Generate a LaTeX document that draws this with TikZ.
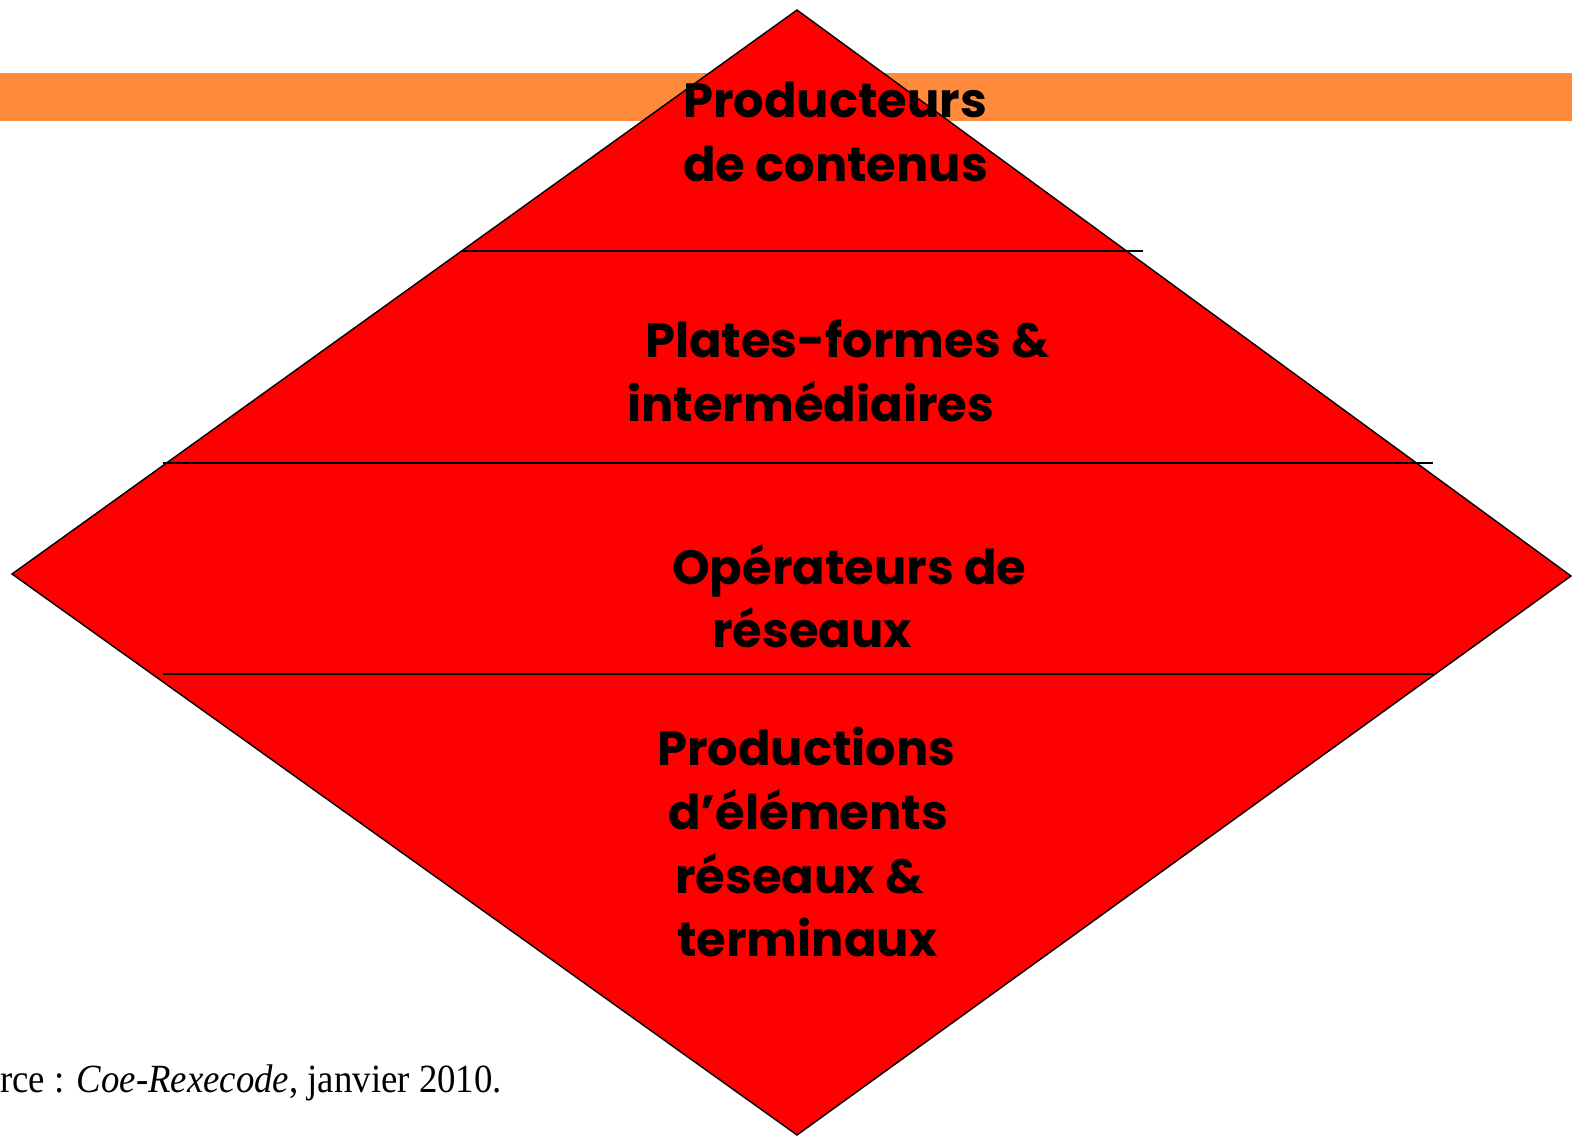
\documentclass[tikz,border=0pt]{standalone}
\usepackage{fontspec}
\setmainfont{Liberation Serif}
\newfontfamily\comicf{Poppins}
\definecolor{bandor}{RGB}{255,138,60}
\definecolor{redfill}{RGB}{255,0,0}
\tikzset{
  lbl/.style={anchor=base west, inner sep=0pt, font=\comicf\bfseries\fontsize{48}{48}\selectfont, text=black},
  sep/.style={draw=black, line width=1.4pt},
}
\begin{document}
\begin{tikzpicture}[x=1pt,y=-1pt]
\useasboundingbox (0,0) rectangle (1572,1138);
\fill[bandor] (0,73) rectangle (1572,121);
\coordinate (T) at (797,10);
\coordinate (R) at (1571,576);
\coordinate (B) at (797,1135);
\coordinate (L) at (12,574);
\filldraw[fill=redfill, draw=black, line width=1.4pt, line join=miter] (T) -- (R) -- (B) -- (L) -- cycle;
\coordinate (a1) at (461,251); \coordinate (a2) at (1143,251);
\coordinate (b1) at (163,463); \coordinate (b2) at (1433,463);
\coordinate (c1) at (163,674); \coordinate (c2) at (1433,674);
\draw[sep] (a1) -- (a2);
\draw[sep] (b1) -- (b2);
\draw[sep] (c1) -- (c2);
\node[lbl] (p1) at (683,117) {Producteurs};
\node[lbl] (p2) at (683,181) {de contenus};
\node[lbl] (q1) at (645,357) {Plates-formes \&};
\node[lbl] (q2) at (627,421) {intermédiaires};
\node[lbl] (r1) at (672,584) {Opérateurs de};
\node[lbl] (r2) at (712,647) {réseaux};
\node[lbl] (s1) at (657,765) {Productions};
\node[lbl] (s2) at (668,829) {d’éléments};
\node[lbl] (s3) at (675,893) {réseaux \&};
\node[lbl] (s4) at (677,956) {terminaux};
\node[anchor=base west, inner sep=0pt, font=\fontsize{40}{40}\selectfont] (src) at (0,1092) {\scalebox{0.92}[1]{rce : \textit{Coe-Rexecode}, janvier 2010.}};
\end{tikzpicture}
\end{document}
